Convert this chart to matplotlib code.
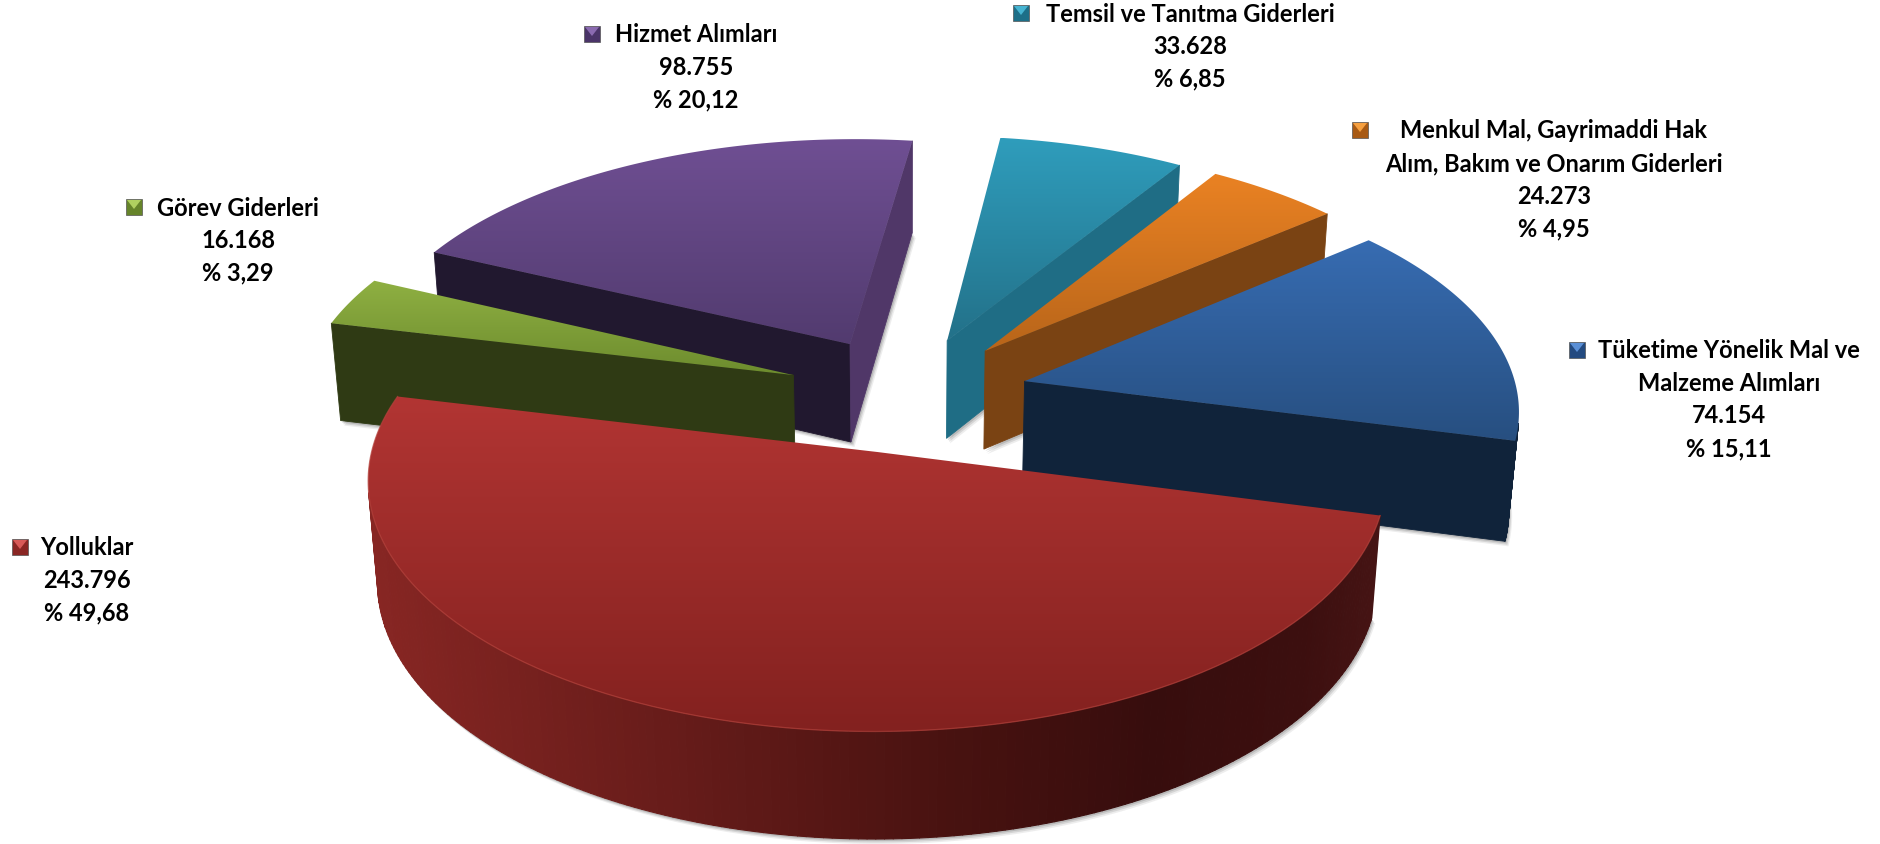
import numpy as np
import matplotlib
matplotlib.use('Agg')
from matplotlib import pyplot as plt
from matplotlib.path import Path
from matplotlib.patches import PathPatch, Polygon, Rectangle
from matplotlib.collections import PolyCollection

# data, clockwise from the top of the pie
names = ['Temsil', 'Menkul', 'Tuketime', 'Yolluklar', 'Gorev', 'Hizmet']
values = [33628, 24273, 74154, 243796, 16168, 98755]
percents = ['% 6,85', '% 4,95', '% 15,11', '% 49,68', '% 3,29', '% 20,12']
label_lines = [
    ['Temsil ve Tanıtma Giderleri'],
    ['Menkul Mal, Gayrimaddi Hak', 'Alım, Bakım ve Onarım Giderleri'],
    ['Tüketime Yönelik Mal ve', 'Malzeme Alımları'],
    ['Yolluklar'],
    ['Görev Giderleri'],
    ['Hizmet Alımları'],
]

# colours: top face (upper, lower), cut face at start, cut face at end
top_colors = {
    'Temsil': ('#2f9dbc', '#237189'), 'Menkul': ('#ea8223', '#b8651a'),
    'Tuketime': ('#376cb2', '#274f80'), 'Yolluklar': ('#b23533', '#83211f'),
    'Gorev': ('#8fb042', '#6d8c2e'), 'Hizmet': ('#6f4f93', '#523b6f'),
}
side_colors = {
    'Temsil': ('#144f60', '#1f6d85'), 'Menkul': ('#5f3510', '#7a4313'),
    'Tuketime': ('#10233a', '#10233a'), 'Yolluklar': ('#6a1c1a', '#3a0e0e'),
    'Gorev': ('#2f3a14', '#2f3a14'), 'Hizmet': ('#21182f', '#503768'),
}
key_colors = dict(side_colors, Temsil=('#1d6f88', '#46b4d2'), Menkul=('#a85a14', '#f6a040'),
                  Tuketime=('#234a80', '#5a8fd6'), Yolluklar=('#8a2624', '#d85a58'),
                  Gorev=('#66842a', '#b0d060'), Hizmet=('#4a3468', '#8a6ab0'))
rim_x = [375, 700, 950, 1150, 1300, 1380]
rim_rgb = np.array([[135, 38, 35], [100, 27, 25], [72, 18, 16], [55, 13, 13], [60, 15, 15], [70, 20, 20]]) / 255

# layout in pixels
draw_order = ['Hizmet', 'Temsil', 'Menkul', 'Gorev', 'Tuketime', 'Yolluklar']
label_pos = {
    'Temsil': (1190, 14, 1021), 'Menkul': (1554, 131, 1360), 'Tuketime': (1729, 351, 1577),
    'Yolluklar': (87, 548, 20), 'Gorev': (238, 208, 134), 'Hizmet': (696, 35, 592),
}
line_step = 32.5
start_deg = 7.5
cx, cy = 907, 395
R = 493
q = 0.48
k = 0.106
m = 0.017
depth = 101
explode = 0.246


def project(x, y, z):
    # z runs from 0 on the top face to 1 on the bottom
    s = 1 / (1 + k * y + m * z)
    return cx + R * s * x, cy - R * s * q * y + depth * s * z


def wedge_points(theta, mid):
    ex, ey = explode * np.sin(mid), explode * np.cos(mid)
    return ex + np.sin(theta), ey + np.cos(theta), ex, ey


def signed_area(poly):
    x, y = poly[:, 0], poly[:, 1]
    return 0.5 * np.sum(x * np.roll(y, -1) - np.roll(x, -1) * y)


def draw_cut(ax, px, py, ex, ey, color, side):
    corners = [project(ex, ey, 0), project(px, py, 0), project(px, py, 1), project(ex, ey, 1)]
    corners = np.array(corners)
    if signed_area(corners) * side > 0:
        return
    ax.add_patch(Polygon(corners, closed=True, fc=color, ec=color, lw=0.6))


def draw_slice(ax, name, t1, t2):
    mid = (t1 + t2) / 2
    thetas = np.linspace(t1, t2, 200)
    rx, ry, ex, ey = wedge_points(thetas, mid)
    top = np.array([project(ex, ey, 0)] + [project(a, b, 0) for a, b in zip(rx, ry)])
    bottom = np.array([project(ex, ey, 1)] + [project(a, b, 1) for a, b in zip(rx, ry)])

    # soft drop shadow under the solid
    for off, alpha in ((5, 0.10), (3.5, 0.16), (2, 0.22)):
        ax.add_patch(Polygon(bottom + [off * 0.7, off], closed=True, fc='#555555', ec='none', alpha=alpha))

    c_start, c_end = side_colors[name]
    draw_cut(ax, rx[0], ry[0], ex, ey, c_start, 1)
    draw_cut(ax, rx[-1], ry[-1], ex, ey, c_end, -1)

    # outer rim, only the strips that face the viewer
    polys, cols = [], []
    for i in range(len(thetas) - 1):
        quad = np.array([top[i + 1], top[i + 2], bottom[i + 2], bottom[i + 1]])
        if signed_area(quad) >= 0:
            continue
        polys.append(quad)
        xm = quad[:, 0].mean()
        cols.append([np.interp(xm, rim_x, rim_rgb[:, j]) for j in range(3)])
    if polys:
        if name != 'Yolluklar':
            cols = [matplotlib.colors.to_rgb(c_end)] * len(polys)
        ax.add_collection(PolyCollection(polys, facecolors=cols, edgecolors=cols, linewidths=0.8))

    # top face with a vertical gradient
    hi, lo = np.array(matplotlib.colors.to_rgb(top_colors[name][0])), np.array(matplotlib.colors.to_rgb(top_colors[name][1]))
    y0, y1 = top[:, 1].min(), top[:, 1].max()
    grad = np.linspace(0, 1, 256)[:, None, None] * (lo - hi) + hi
    im = ax.imshow(grad, extent=(top[:, 0].min() - 1, top[:, 0].max() + 1, y1, y0), aspect='auto', interpolation='bilinear')
    patch = PathPatch(Path(np.vstack([top, top[0]]), closed=True), fc='none', ec='none')
    ax.add_patch(patch)
    im.set_clip_path(patch)

    # thin highlight along the front of the big slice
    if name == 'Yolluklar':
        ax.plot(top[1:, 0], top[1:, 1], color='#b5423c', lw=0.9, alpha=0.7)


def draw_key(ax, x, y, name):
    dark, light = key_colors[name]
    ax.add_patch(Rectangle((x - 8, y - 8), 16, 16, fc=dark, ec='#555555', lw=0.5, zorder=19))
    ax.add_patch(Polygon([(x - 7, y - 7), (x + 7, y - 7), (x, y + 2)], fc=light, ec='none', zorder=19))


fig = plt.figure(figsize=(18.81, 8.45), dpi=100)
ax = fig.add_axes([0, 0, 1, 1])
ax.set_axis_off()

fractions = np.array(values) / np.sum(values)
edges = np.radians(start_deg) + 2 * np.pi * np.concatenate([[0], np.cumsum(fractions)])
spans = {n: (edges[i], edges[i + 1]) for i, n in enumerate(names)}

# each slice gets its own rising zorder so the imshow tops stack properly
for z_index, name in enumerate(draw_order):
    before = set(ax.get_children())
    draw_slice(ax, name, *spans[name])
    for art in ax.get_children():
        if art not in before:
            is_top = art.__class__.__name__ in ('AxesImage', 'Line2D')
            art.set_zorder(z_index + (0.5 if is_top else 0.1))

for i, name in enumerate(names):
    tx, ty, kx = label_pos[name]
    lines = label_lines[i] + [f'{values[i]:,}'.replace(',', '.'), percents[i]]
    for j, line in enumerate(lines):
        ax.text(tx, ty + j * line_step, line, ha='center', va='center', family='Lato',
                fontweight='bold', fontsize=17, color='#000000', zorder=20)
    draw_key(ax, kx, ty, name)

ax.set_xlim(0, 1881)
ax.set_ylim(845, 0)
fig.savefig('out.png', dpi=100, facecolor='white')
